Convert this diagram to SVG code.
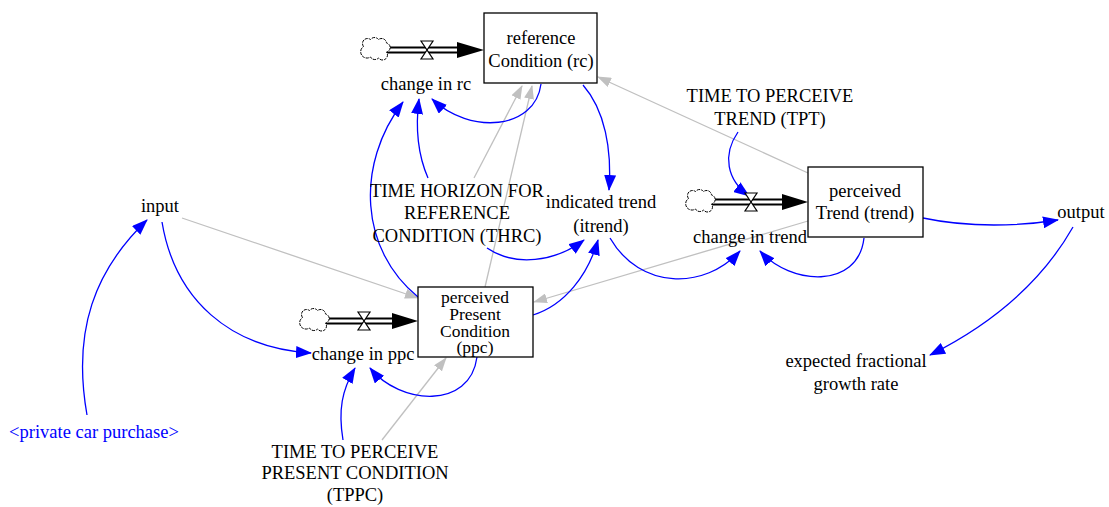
<svg xmlns="http://www.w3.org/2000/svg" width="1109" height="507" viewBox="0 0 1109 507" font-family="'Liberation Serif', 'DejaVu Serif', serif">
<style>
text{font-family:'Liberation Serif','DejaVu Serif',serif;font-size:18.5px;fill:#000;text-anchor:middle}
.blue{fill:#0000ff}
.stock{fill:#fff;stroke:#000;stroke-width:1.3}
.lb{fill:none;stroke:#0000ff;stroke-width:1.3;marker-end:url(#ab)}
.lg{fill:none;stroke:#c0c0c0;stroke-width:1.3;marker-end:url(#ag)}
.pipeo{stroke:#000;stroke-width:7}
.pipei{stroke:#fff;stroke-width:3}
.cloud{fill:#fff;stroke:#000;stroke-width:1;stroke-dasharray:3 1}
.valve{fill:#fff;stroke:#000;stroke-width:1.2}
</style>
<defs>
<marker id="ab" markerWidth="16" markerHeight="12" refX="15" refY="6" orient="auto" markerUnits="userSpaceOnUse"><path d="M0,0 L16,6 L0,12 Z" fill="#0000ff"/></marker>
<marker id="ag" markerWidth="14" markerHeight="10" refX="13" refY="5" orient="auto" markerUnits="userSpaceOnUse"><path d="M0,0 L14,5 L0,10 Z" fill="#c0c0c0"/></marker>
<path id="cl" class="cloud" d="M-11.5,-3.5 a5,5 0 0,1 7,-7 a5,5 0 0,1 8,0 a5,5 0 0,1 8,3.5 a4.6,4.6 0 0,1 0,9 a5,5 0 0,1 -8,6 a5,5 0 0,1 -8,-1 a5,5 0 0,1 -7,-10.5 z"/>
<path id="vl" class="valve" d="M-6,-9 L6,-9 L0,0 Z M-6,9 L6,9 L0,0 Z"/>
</defs>

<g id="connectors">
<path class="lg" d="M182,218 L418,298"/>
<path class="lg" d="M382,440 L446,358"/>
<path class="lg" d="M474,178 L522,86"/>
<path class="lg" d="M485,287 L532,86"/>
<path class="lg" d="M808,173 L598,77"/>
<path class="lg" d="M808,221 L534,302"/>
<path class="lb" d="M541,84 C535,130 470,135 432,99"/>
<path class="lb" d="M428,178 C418,155 415,130 419,99"/>
<path class="lb" d="M418,297 C360,250 355,165 403,102"/>
<path class="lb" d="M583,85 C605,110 612,150 609,190"/>
<path class="lb" d="M487,248 C515,267 555,262 584,240"/>
<path class="lb" d="M533,315 C565,305 588,275 598,240"/>
<path class="lb" d="M610,238 C640,290 705,290 740,251"/>
<path class="lb" d="M864,238 C858,290 790,285 760,251"/>
<path class="lb" d="M738,132 C722,155 727,180 749,196"/>
<path class="lb" d="M923,218 C970,228 1020,226 1058,220"/>
<path class="lb" d="M1073,227 C1040,285 990,325 930,355"/>
<path class="lb" d="M162,222 C175,300 230,348 311,353"/>
<path class="lb" d="M87,415 C72,330 95,270 147,220"/>
<path class="lb" d="M343,440 C338,410 342,390 355,368"/>
<path class="lb" d="M477,357 C470,410 400,405 370,368"/>
</g>

<g id="flow-rc">
<line class="pipeo" x1="386" y1="50" x2="458" y2="50"/>
<line class="pipei" x1="385" y1="50" x2="459" y2="50"/>
<use href="#cl" x="375" y="50"/>
<path d="M457,42 L484,50 L457,58 Z" fill="#000"/>
<use href="#vl" x="427" y="50"/>
<text x="426" y="90">change in rc</text>
</g>

<g id="stock-rc">
<rect class="stock" x="484" y="13" width="113" height="70"/>
<text x="541" y="44">reference</text>
<text x="541" y="67">Condition (rc)</text>
</g>

<g id="flow-trend">
<line class="pipeo" x1="711" y1="202" x2="783" y2="202"/>
<line class="pipei" x1="710" y1="202" x2="784" y2="202"/>
<use href="#cl" x="700" y="202"/>
<path d="M782,194 L808,202 L782,210 Z" fill="#000"/>
<use href="#vl" x="751" y="202"/>
<text x="750" y="243">change in trend</text>
</g>

<g id="stock-trend">
<rect class="stock" x="808" y="167" width="115" height="70"/>
<text x="865" y="197">perceived</text>
<text x="865" y="219">Trend (trend)</text>
</g>

<g id="flow-ppc">
<line class="pipeo" x1="325" y1="321" x2="393" y2="321"/>
<line class="pipei" x1="324" y1="321" x2="394" y2="321"/>
<use href="#cl" x="314" y="321"/>
<path d="M392,313 L418,321 L392,329 Z" fill="#000"/>
<use href="#vl" x="364" y="321"/>
<text x="363" y="360">change in ppc</text>
</g>

<g id="stock-ppc">
<rect class="stock" x="418" y="287" width="115" height="70"/>
<text x="475" y="303" style="font-size:17.5px">perceived</text>
<text x="475" y="320" style="font-size:17.5px">Present</text>
<text x="475" y="337" style="font-size:17.5px">Condition</text>
<text x="475" y="353" style="font-size:17.5px">(ppc)</text>
</g>

<g id="input"><text x="160" y="212">input</text></g>
<g id="private-car-purchase"><text class="blue" x="94" y="438">&lt;private car purchase&gt;</text></g>
<g id="thrc">
<text x="457" y="197">TIME HORIZON FOR</text>
<text x="457" y="219">REFERENCE</text>
<text x="457" y="242">CONDITION (THRC)</text>
</g>
<g id="itrend">
<text x="601" y="208">indicated trend</text>
<text x="601" y="232">(itrend)</text>
</g>
<g id="tpt">
<text x="770" y="102">TIME TO PERCEIVE</text>
<text x="770" y="125">TREND (TPT)</text>
</g>
<g id="output"><text x="1081" y="218">output</text></g>
<g id="expected">
<text x="856" y="367">expected fractional</text>
<text x="856" y="390">growth rate</text>
</g>
<g id="tppc">
<text x="355" y="458">TIME TO PERCEIVE</text>
<text x="355" y="479">PRESENT CONDITION</text>
<text x="355" y="501">(TPPC)</text>
</g>
</svg>
